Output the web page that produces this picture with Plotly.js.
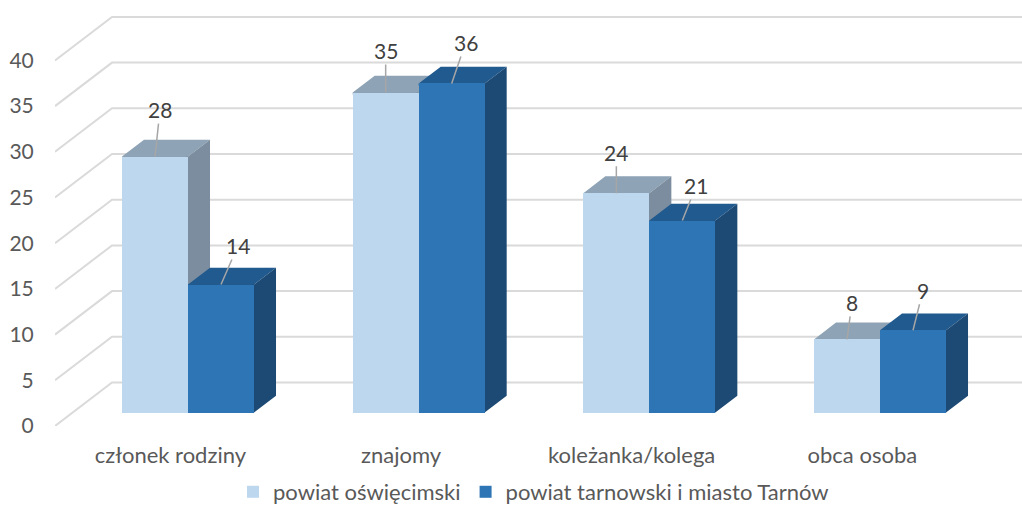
<!DOCTYPE html>
<html>
<head>
<meta charset="utf-8">
<script src="https://cdn.plot.ly/plotly-3.0.1.min.js"></script>
<style>html,body{margin:0;padding:0;background:#fff;overflow:hidden;height:507px}</style>
</head>
<body>
<div id="chart" style="width:1022px;height:520px"></div>
<script>
const categories = ["członek rodziny", "znajomy", "koleżanka/kolega", "obca osoba"];
const seriesNames = ["powiat oświęcimski", "powiat tarnowski i miasto Tarnów"];
const valuesOswiecim = [28, 35, 24, 8];
const valuesTarnow = [14, 36, 21, 9];
const yTicks = [0, 5, 10, 15, 20, 25, 30, 35, 40];

// oblique projection, in axis units
const catPx = 230.67, unitPx = 9.14, plotH = 426;
const depthX = 57 / catPx, depthY = 43.5 / unitPx;
const barW = 66 / catPx;
const barStart = 0.31, barDepth = 0.386;
const xMin = -0.5, xMax = (1022 - 55) / catPx - 0.5;
const centers = categories.map((c, i) => i + barStart * depthX);
const baseY = barStart * depthY;
const overlapX = 2 / catPx, overlapY = 2 / unitPx;

const shapes = [];
yTicks.forEach(t => {
  shapes.push({type: "path", layer: "below", xref: "x", yref: "y",
    path: `M ${xMin} ${t} L ${xMin + depthX} ${t + depthY} L ${xMax} ${t + depthY}`,
    line: {color: "#DADADA", width: 2}});
});
function faces(x, val, topColor, sideColor) {
  const dx = barDepth * depthX, dy = barDepth * depthY;
  const l = x - barW / 2, r = x + barW / 2, b = baseY, t = baseY + val;
  // each face runs a little under the front rectangle so no seam shows
  shapes.push({type: "path", layer: "below", xref: "x", yref: "y",
    path: `M ${l} ${t} L ${l + dx} ${t + dy} L ${r + dx} ${t + dy} L ${r} ${t} L ${r} ${t - overlapY} L ${l} ${t - overlapY} Z`,
    fillcolor: topColor, line: {width: 0}});
  shapes.push({type: "path", layer: "below", xref: "x", yref: "y",
    path: `M ${r} ${b} L ${r + dx} ${b + dy} L ${r + dx} ${t + dy} L ${r} ${t} L ${r - overlapX} ${t} L ${r - overlapX} ${b} Z`,
    fillcolor: sideColor, line: {width: 0}});
}
const xA = centers.map(c => c - barW / 2);
const xB = centers.map(c => c + barW / 2);
// paint pair by pair so each darker bar sits over its lighter neighbour
categories.forEach((c, i) => {
  faces(xA[i], valuesOswiecim[i], "#8EA3B5", "#7B8D9F");
  faces(xB[i], valuesTarnow[i], "#215A8F", "#1C4A75");
});

const labelOffsets = [[[5, -47], [0, -42], [0, -41], [5, -37]], [[17, -39], [14, -41], [14, -35], [10, -40]]];
const annotations = [];
[[xA, valuesOswiecim], [xB, valuesTarnow]].forEach((s, k) => {
  s[0].forEach((x, i) => {
    annotations.push({x: x, y: baseY + s[1][i], xref: "x", yref: "y",
      text: String(s[1][i]), showarrow: true, arrowhead: 0, arrowwidth: 1.5, arrowcolor: "#A6A6A6",
      ax: labelOffsets[k][i][0], ay: labelOffsets[k][i][1],
      font: {family: "Lato, sans-serif", size: 21, color: "#404040"}});
  });
});

const traces = [
  {type: "bar", name: seriesNames[0], x: xA, y: valuesOswiecim, base: baseY, width: barW,
   marker: {color: "#BDD7EE", line: {width: 0}}},
  {type: "bar", name: seriesNames[1], x: xB, y: valuesTarnow, base: baseY, width: barW,
   marker: {color: "#2E75B6", line: {width: 0}}}
];

const layout = {
  width: 1022, height: 520,
  margin: {l: 55, r: 0, t: 0, b: 94},
  paper_bgcolor: "#fff", plot_bgcolor: "#fff",
  barmode: "overlay", bargap: 0,
  showlegend: true,
  legend: {orientation: "h", xref: "container", yref: "container", x: 0.228, xanchor: "left", y: 0.0135, yanchor: "bottom",
    bgcolor: "rgba(0,0,0,0)",
    font: {family: "Lato, sans-serif", size: 22, color: "#595959"}},
  xaxis: {range: [xMin, xMax], tickvals: categories.map((c, i) => i), ticktext: categories,
    showgrid: false, zeroline: false, showline: false, ticks: "outside", ticklen: 10, tickcolor: "rgba(0,0,0,0)",
    tickfont: {family: "Lato, sans-serif", size: 22, color: "#595959"}},
  yaxis: {range: [0, plotH / unitPx], tickvals: yTicks, showgrid: false, zeroline: false, showline: false,
    ticks: "outside", ticklen: 16, tickcolor: "rgba(0,0,0,0)",
    tickfont: {family: "Lato, sans-serif", size: 21, color: "#595959"}},
  shapes: shapes, annotations: annotations
};
Plotly.newPlot("chart", traces, layout, {displayModeBar: false, responsive: false});
</script>
</body>
</html>
